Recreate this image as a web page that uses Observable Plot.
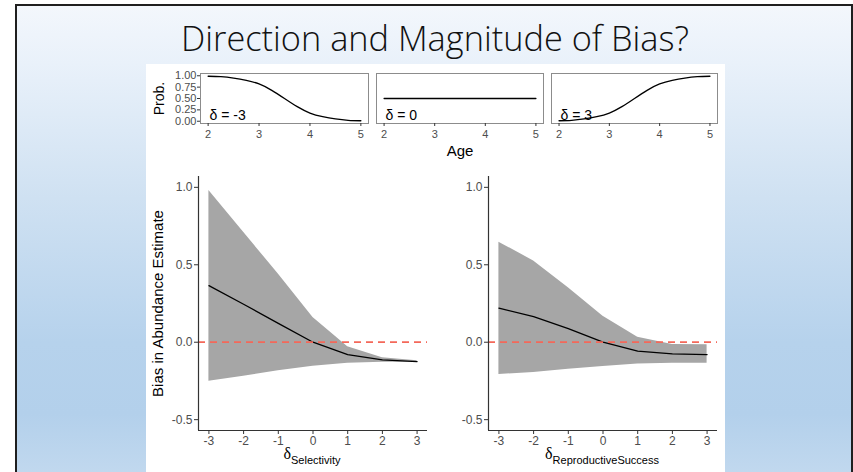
<!DOCTYPE html>
<html><head><meta charset="utf-8">
<script src="https://cdn.jsdelivr.net/npm/d3@7"></script>
<script src="https://cdn.jsdelivr.net/npm/@observablehq/plot@0.6"></script>
<style>
html,body{margin:0;padding:0;width:853px;height:472px;overflow:hidden;background:#fff;}
#slide{position:absolute;left:15px;top:4px;width:834px;height:480px;border:2px solid #1f1f1f;border-bottom:none;
 background:linear-gradient(to bottom,#f3f7fc 0%,#e9f1fa 12%,#cfe1f2 40%,#b6d2ec 70%,#b3d0eb 85%,#c4daef 100%);}
#white{position:absolute;left:146px;top:64px;width:579px;height:408px;background:#fff;}
.abs{position:absolute;}
</style></head>
<body>
<div id="slide"></div>
<svg id="title" class="abs" style="left:0;top:0" width="853" height="64">
  <text x="435" y="51" text-anchor="middle" font-family="Open Sans, Noto Sans, sans-serif" font-weight="300" font-size="34" fill="#111" textLength="508" lengthAdjust="spacingAndGlyphs">Direction and Magnitude of Bias?</text>
</svg>
<div id="white"></div>
<script>
// ---- data ----
const ages = [2, 2.25, 2.5, 2.75, 3, 3.25, 3.5, 3.75, 4, 4.25, 4.5, 4.75, 5];
const probNeg = [0.99, 0.98, 0.95, 0.90, 0.82, 0.68, 0.50, 0.32, 0.18, 0.10, 0.05, 0.02, 0.01];
const probZero = [0.5, 0.5, 0.5, 0.5, 0.5, 0.5, 0.5, 0.5, 0.5, 0.5, 0.5, 0.5, 0.5];
const probPos = [0.01, 0.02, 0.05, 0.10, 0.18, 0.32, 0.50, 0.68, 0.82, 0.90, 0.95, 0.98, 0.99];
const smallLabels = ["δ = -3", "δ = 0", "δ = 3"];
const ageTicks = [2, 3, 4, 5];
const probTicks = [0, 0.25, 0.5, 0.75, 1];

const deltas = [-3, -2, -1, 0, 1, 2, 3];
const selMean  = [0.365, 0.245, 0.122, 0.0, -0.08, -0.114, -0.125];
const selUpper = [0.98, 0.71, 0.44, 0.16, -0.03, -0.10, -0.12];
const selLower = [-0.252, -0.22, -0.185, -0.155, -0.135, -0.13, -0.13];
const repMean  = [0.22, 0.165, 0.088, 0.0, -0.057, -0.075, -0.08];
const repUpper = [0.646, 0.525, 0.352, 0.168, 0.032, -0.015, -0.017];
const repLower = [-0.209, -0.195, -0.175, -0.156, -0.14, -0.135, -0.135];
const biasTicks = [-0.5, 0, 0.5, 1];
const yLabel = "Bias in Abundance Estimate";
const xSubs = ["Selectivity", "ReproductiveSuccess"];

const FONT = "Liberation Sans, Arial, Helvetica, sans-serif";

function place(svg, left, top) {
  const d = document.createElement("div");
  d.className = "abs";
  d.style.left = left + "px";
  d.style.top = top + "px";
  d.appendChild(svg);
  document.body.appendChild(d);
}

// ---- small panels ----
function small(probs, label, i) {
  const ml = i === 0 ? 54 : 4;
  const pw = i === 0 ? 168 : (i === 1 ? 167 : 166);
  const rows = ages.map((a, k) => ({age: a, p: probs[k]}));
  const marks = [
    Plot.frame({stroke: "#8c8c8c"}),
    Plot.axisX({ticks: ageTicks, tickSize: 3, tickPadding: 4, tickFormat: d => String(d), label: null, stroke: "#333", fill: "#4d4d4d", fontSize: 11}),
    Plot.line(rows, {x: "age", y: "p", curve: "natural", stroke: "#000", strokeWidth: 1.3}),
    Plot.text([label], {frameAnchor: "bottom-left", dx: 9, dy: -4, textAnchor: "start", lineAnchor: "bottom", fontSize: 14, fill: "#000"})
  ];
  if (i === 0) {
    marks.push(Plot.axisY({ticks: probTicks, tickSize: 3, tickPadding: 1, tickFormat: d => d.toFixed(2), label: null, stroke: "#333", fill: "#4d4d4d", fontSize: 11}));
    marks.push(Plot.text(["Prob."], {frameAnchor: "left", textAnchor: "middle", lineAnchor: "middle", rotate: -90, dx: -41, fontSize: 14, fill: "#000"}));
  } else {
    marks.push(Plot.axisY({ticks: [], label: null}));
  }
  if (i === 1) {
    marks.push(Plot.axisX({ticks: [], label: "Age", labelAnchor: "center", labelArrow: "none", labelOffset: 32, fill: "#000", fontSize: 15}));
  }
  const svg = Plot.plot({
    width: ml + pw + 4, height: 99,
    marginLeft: ml, marginRight: 4, marginTop: 9, marginBottom: 40,
    x: {domain: [1.85, 5.15]}, y: {domain: [-0.05, 1.05]},
    style: {background: "transparent", fontFamily: FONT, overflow: "visible"},
    marks
  });
  return svg;
}
place(small(probNeg, smallLabels[0], 0), 146, 64);
place(small(probZero, smallLabels[1], 1), 372, 64);
place(small(probPos, smallLabels[2], 2), 547, 64);

// ---- main panels ----
const xDom = [-3.3, 3.3], yDom = [-0.57, 1.07];
function main(mean, lo, hi, sub, withLabel) {
  const rows = deltas.map((d, k) => ({d, m: mean[k], lo: lo[k], hi: hi[k]}));
  const marks = [
    Plot.areaY(rows, {x: "d", y1: "lo", y2: "hi", fill: "#a6a6a6"}),
    Plot.line(rows, {x: "d", y: "m", stroke: "#000", strokeWidth: 1.3}),
    Plot.ruleY([0], {stroke: "#f4685a", strokeWidth: 1.8, strokeDasharray: "7,5"}),
    Plot.ruleX([xDom[0]], {stroke: "#333", strokeWidth: 1.2}),
    Plot.ruleY([yDom[0]], {stroke: "#333", strokeWidth: 1.2}),
    Plot.axisX({ticks: deltas, tickSize: 4, tickPadding: 2, tickFormat: d => String(d), label: null, stroke: "#333", fill: "#4d4d4d", fontSize: 12}),
    Plot.axisY({ticks: biasTicks, tickSize: 4, tickPadding: 2, tickFormat: d => d.toFixed(1), label: null, stroke: "#333", fill: "#4d4d4d", fontSize: 12})
  ];
  if (withLabel) marks.push(Plot.text([yLabel], {frameAnchor: "left", textAnchor: "middle", lineAnchor: "middle", rotate: -90, dx: -40, fontSize: 15, fill: "#000"}));
  const svg = Plot.plot({
    width: 290, height: 302,
    marginLeft: 52, marginRight: 9, marginTop: 6, marginBottom: 42,
    x: {domain: xDom}, y: {domain: yDom},
    style: {background: "transparent", fontFamily: FONT, overflow: "visible"},
    marks
  });
  const t = d3.select(svg).append("text")
    .attr("x", 166).attr("y", 289).attr("text-anchor", "middle").attr("fill", "#000");
  t.append("tspan").attr("font-family", "Liberation Serif, Times New Roman, serif").attr("font-size", 16).text("δ");
  t.append("tspan").attr("font-family", FONT).attr("font-size", 11).attr("dy", 5).text(sub);
  return svg;
}
place(main(selMean, selLower, selUpper, xSubs[0], true), 146, 170);
place(main(repMean, repLower, repUpper, xSubs[1], false), 436, 170);
</script>
</body></html>
